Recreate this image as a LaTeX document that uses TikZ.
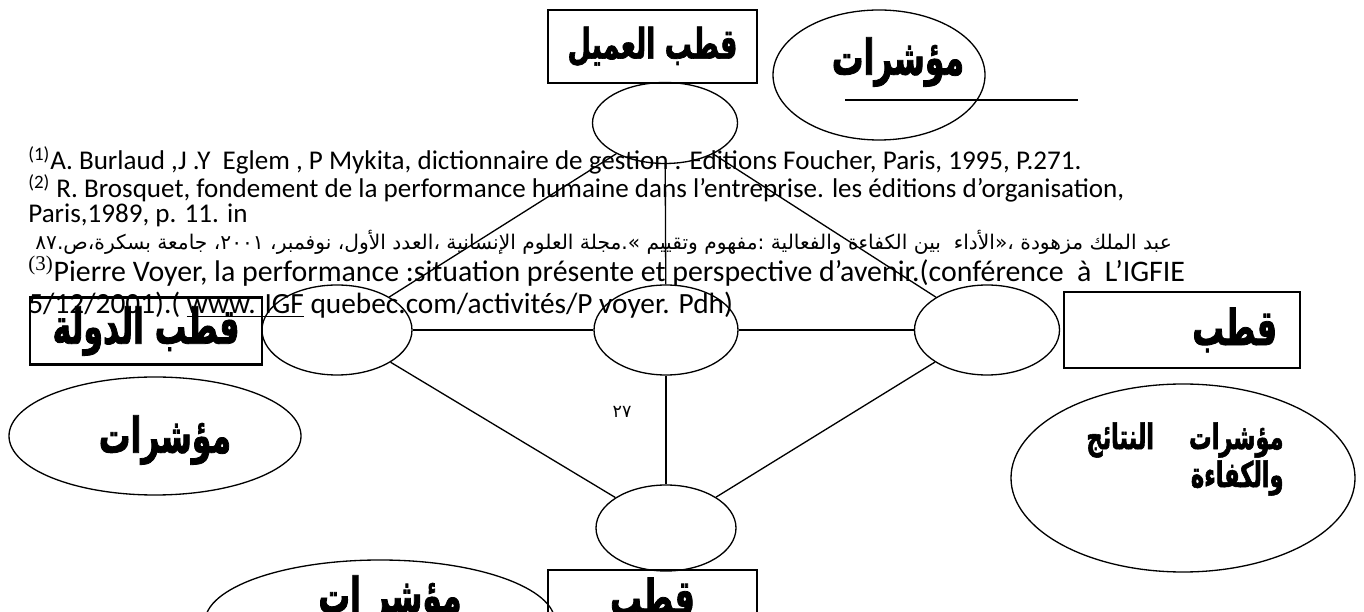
\documentclass[tikz,border=0pt]{standalone}
\usepackage{fontspec}
\setmainfont{Carlito}
\newfontfamily\arabicfont[Script=Arabic]{DejaVu Sans}
\newfontfamily\arabicnarrow[Script=Arabic, FakeStretch=0.64, BoldFeatures={FakeBold=1.6}]{DejaVu Sans}
\newfontfamily\timesfont{Liberation Serif}
\TeXXeTstate=1
\usetikzlibrary{shapes.geometric}

\tikzset{
	polebox/.style={draw, line width=1.4pt, inner sep=0pt, font=\arabicnarrow\bfseries\fontsize{24}{28}\selectfont},
	poleell/.style={draw, ellipse, line width=0.75pt, inner sep=0pt},
	indell/.style={draw, ellipse, line width=0.75pt, inner sep=0pt},
	indtext/.style={inner sep=0pt, font=\arabicnarrow\bfseries\fontsize{28}{32}\selectfont},
	link/.style={line width=0.75pt},
	fnote/.style={anchor=west, inner sep=0pt, font=\fontsize{15.4}{18}\selectfont},
	fnotebig/.style={anchor=west, inner sep=0pt, font=\fontsize{17}{20}\selectfont},
}

\begin{document}
\begin{tikzpicture}
		%%%%% START %%%%%
		\useasboundingbox (0, 0) rectangle (27.28, 12.24);
		\clip (0, 0) rectangle (27.28, 12.24);
		
		\node[polebox, minimum width=4.18cm, minimum height=1.46cm] (poleClient) at (13.05, 11.31) {\beginR قطب العميل\endR};
		\node[indell, minimum width=4.24cm, minimum height=2.6cm] (indClient) at (17.58, 10.74) {};
		\node[indtext] (indClientText) at (17.96, 11.0) {مؤشرات};
		\draw[link] (16.9, 10.24) -- (21.56, 10.24);
		\node[poleell, minimum width=2.9cm, minimum height=1.62cm] (ellClient) at (13.3, 9.78) {};
		
		\node[fnote] (fnOne) at (0.56, 9.04) {\textsuperscript{(1)}A. Burlaud ,J .Y~~Eglem , P Mykita, dictionnaire de gestion . Editions Foucher, Paris, 1995, P.271.};
		\node[fnote] (fnTwo) at (0.56, 8.48) {\textsuperscript{(2)} R. Brosquet, fondement de la performance humaine dans l’entreprise. les éditions d’organisation,};
		\node[fnote] (fnTwoB) at (0.56, 7.94) {Paris,1989, p. 11. in};
		\node[anchor=west, inner sep=0pt, font=\arabicfont\fontsize{11.5}{13}\selectfont] (fnArabic) at (0.7, 7.40) {\beginR عبد الملك مزهودة ،«الأداء~~بين الكفاءة والفعالية :مفهوم وتقييم ».مجلة العلوم الإنسانية ،العدد الأول، نوفمبر، ٢٠٠١، جامعة بسكرة،ص.٨٧\endR};
		\node[fnotebig] (fnThree) at (0.56, 6.82) {{\timesfont\textsuperscript{(3)}}Pierre Voyer, la performance :situation présente et perspective d’avenir.(conférence~~à~~L’IGFIE};
		\node[fnotebig, font=\fontsize{16.7}{20}\selectfont] (fnThreeB) at (0.56, 6.14) {5/12/2001).( \underline{www. IGF} quebec.com/activités/P voyer. Pdh)};
		
		\node[polebox, minimum width=4.64cm, minimum height=1.34cm, font=\arabicnarrow\bfseries\fontsize{28}{32}\selectfont] (poleState) at (2.92, 5.62) {\beginR قطب الدولة\endR};
		\node[poleell, minimum width=3.0cm, minimum height=1.8cm] (ellState) at (6.74, 5.64) {};
		\node[poleell, minimum width=2.88cm, minimum height=1.8cm] (ellMid) at (13.32, 5.64) {};
		\node[poleell, minimum width=2.9cm, minimum height=1.8cm] (ellResult) at (19.74, 5.64) {};
		\node[polebox, minimum width=4.72cm, minimum height=1.52cm, text width=3.8cm, align=right, font=\arabicnarrow\bfseries\fontsize{28}{32}\selectfont] (poleResult) at (23.64, 5.64) {قطب};
		
		\node[font=\arabicfont\fontsize{10}{12}\selectfont] (pageNum) at (12.44, 4.0) {٢٧};
		
		\node[indell, minimum width=5.84cm, minimum height=2.36cm] (indState) at (3.1, 3.52) {};
		\node[indtext] (indStateText) at (3.3, 3.44) {مؤشرات};
		\node[indell, minimum width=6.88cm, minimum height=3.76cm] (indResult) at (23.66, 2.68) {};
		\node[inner sep=0pt, font=\arabicnarrow\bfseries\fontsize{20}{21.6}\selectfont, align=right] (indResultText) at (23.7, 3.06) {\beginR مؤشرات\hspace{0.7cm}النتائج\endR\\ \beginR والكفاءة\endR};
		
		\node[poleell, minimum width=2.8cm, minimum height=1.72cm] (ellCost) at (13.32, 1.68) {};
		\node[polebox, minimum width=4.18cm, minimum height=1.2cm, font=\arabicnarrow\bfseries\fontsize{28}{32}\selectfont] (poleCost) at (13.05, 0.24) {قطب};
		\node[indell, minimum width=7.0cm, minimum height=2.48cm] (indCost) at (7.6, -0.2) {};
		\node[indtext] (indCostText) at (7.8, 0.24) {\beginR مؤشر ات\endR};
		
		\draw[link] (ellClient) -- (ellMid);
		\draw[link] (ellClient) -- (ellState);
		\draw[link] (ellClient) -- (ellResult);
		\draw[link] (ellState) -- (ellMid);
		\draw[link] (ellMid) -- (ellResult);
		\draw[link] (ellMid) -- (ellCost);
		\draw[link] (ellState) -- (ellCost);
		\draw[link] (ellResult) -- (ellCost);
		
		%%%%% END %%%%%
\end{tikzpicture}
\end{document}
